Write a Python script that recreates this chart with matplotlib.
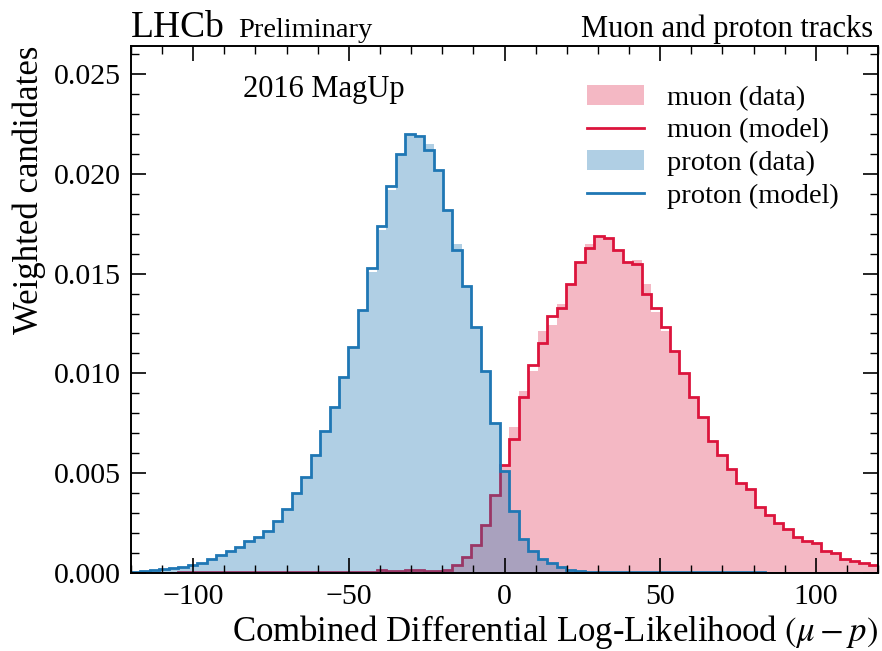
import numpy as np
import matplotlib
matplotlib.use("Agg")
import matplotlib.pyplot as plt
from matplotlib.patches import Patch
from matplotlib.lines import Line2D

# binning: 79 bins between -120 and 120
bin_edges = np.linspace(-120, 120, 80)

# proton sample (normalised, weighted)
proton_model = [
    0.00005, 0.0001, 0.00015, 0.0002, 0.00025, 0.0003, 0.0004, 0.0005, 0.0007, 0.0009,
    0.0011, 0.0013, 0.0016, 0.0018, 0.0021, 0.0026, 0.0032, 0.0040, 0.0048, 0.0059,
    0.0071, 0.0083, 0.0098, 0.0113, 0.0132, 0.0153, 0.0174, 0.0194, 0.0210, 0.0220,
    0.0219, 0.0212, 0.0202, 0.0182, 0.0162, 0.0144, 0.0123, 0.0101, 0.0075, 0.0051,
    0.0031, 0.0017, 0.0011, 0.0007, 0.0005, 0.0003, 0.00015, 0.0001, 0.00005, 0.00005,
    0.00005, 0.00005, 0.00005, 0.00005, 0.00005, 0.00005, 0.00005, 0.00005, 0.00005, 0.00005,
    0.00005, 0.00005, 0.00005, 0.00005, 0.00005, 0.00005, 0.00005, 0.00002, 0.00002, 0.00002,
    0.00002, 0.00002, 0.00002, 0.00002, 0.00002, 0.00002, 0.00002, 0.00002, 0.00002,
]
proton_data = [
    0.00005, 0.0001, 0.00015, 0.0002, 0.00025, 0.0003, 0.0004, 0.0005, 0.0007, 0.0009,
    0.0011, 0.0013, 0.0016, 0.0018, 0.0021, 0.0026, 0.0032, 0.0040, 0.0048, 0.0059,
    0.0071, 0.0083, 0.0098, 0.0113, 0.0132, 0.0151, 0.0172, 0.0192, 0.0210, 0.0220,
    0.0218, 0.0215, 0.0202, 0.0182, 0.0165, 0.0144, 0.0123, 0.0101, 0.0075, 0.0051,
    0.0031, 0.0017, 0.0011, 0.0007, 0.0005, 0.0003, 0.00015, 0.0001, 0.00005, 0.00005,
    0.00005, 0.00005, 0.00005, 0.00005, 0.00005, 0.00005, 0.00005, 0.00005, 0.00005, 0.00005,
    0.00005, 0.00005, 0.00005, 0.00005, 0.00005, 0.00005, 0.00005, 0.00002, 0.00002, 0.00002,
    0.00002, 0.00002, 0.00002, 0.00002, 0.00002, 0.00002, 0.00002, 0.00002, 0.00002,
]

# muon sample
muon_model = [
    0.00002, 0.00002, 0.00002, 0.00002, 0.00002, 0.00005, 0.00005, 0.00005, 0.00005, 0.00005,
    0.00005, 0.00005, 0.00005, 0.00005, 0.00005, 0.00005, 0.00005, 0.00005, 0.00005, 0.00005,
    0.00005, 0.00005, 0.00005, 0.00005, 0.00005, 0.00005, 0.00015, 0.0001, 0.00008, 0.00015,
    0.00015, 0.00012, 0.0001, 0.00015, 0.0004, 0.0008, 0.0014, 0.0024, 0.0039, 0.0054,
    0.0067, 0.0088, 0.0104, 0.0115, 0.0129, 0.0133, 0.0145, 0.0156, 0.0163, 0.0169,
    0.0168, 0.0162, 0.0156, 0.0155, 0.0140, 0.0133, 0.0123, 0.0111, 0.0100, 0.0088,
    0.0078, 0.0066, 0.0059, 0.0052, 0.0045, 0.0042, 0.0033, 0.0029, 0.0025, 0.0022,
    0.0018, 0.0016, 0.0015, 0.0011, 0.0010, 0.0007, 0.0006, 0.0005, 0.0004,
]
muon_data = [
    0.00002, 0.00002, 0.00002, 0.00002, 0.00002, 0.00005, 0.00005, 0.00005, 0.00005, 0.00005,
    0.00005, 0.00005, 0.00005, 0.00005, 0.00005, 0.00005, 0.00005, 0.00005, 0.00005, 0.00005,
    0.00005, 0.00005, 0.00005, 0.00005, 0.00005, 0.00005, 0.00015, 0.0001, 0.00008, 0.00015,
    0.00015, 0.00012, 0.0001, 0.00015, 0.0004, 0.0008, 0.0014, 0.0024, 0.0039, 0.0054,
    0.0073, 0.0091, 0.0101, 0.0121, 0.0124, 0.0135, 0.0145, 0.0156, 0.0165, 0.0169,
    0.0168, 0.0162, 0.0156, 0.0157, 0.0145, 0.0131, 0.0121, 0.0111, 0.0100, 0.0088,
    0.0078, 0.0066, 0.0059, 0.0052, 0.0045, 0.0042, 0.0033, 0.0029, 0.0025, 0.0022,
    0.0018, 0.0016, 0.0015, 0.0011, 0.0010, 0.0007, 0.0006, 0.0005, 0.0004,
]

muon_color = "crimson"
proton_color = "#1f77b4"

plt.rcParams["font.family"] = ["Liberation Serif", "DejaVu Serif"]
plt.rcParams["mathtext.fontset"] = "stix"

fig = plt.figure(figsize=(8.82, 6.51), dpi=100)
ax = fig.add_axes([0.1485, 0.1198, 0.847, 0.8095])

# muon first, proton fill on top so the overlap comes out purple
ax.stairs(muon_data, bin_edges, fill=True, color=muon_color, alpha=0.3, linewidth=0)
ax.stairs(muon_model, bin_edges, color=muon_color, linewidth=2.0)
ax.stairs(proton_data, bin_edges, fill=True, color=proton_color, alpha=0.35, linewidth=0)
ax.stairs(proton_model, bin_edges, color=proton_color, linewidth=2.0)

ax.set_xlim(-120, 120)
ax.set_ylim(0, 0.0264)
ax.set_xticks([-100, -50, 0, 50, 100])
ax.set_xticks(np.arange(-120, 121, 10), minor=True)
ax.set_yticks([0.0, 0.005, 0.010, 0.015, 0.020, 0.025])
ax.set_yticks(np.arange(0, 0.0265, 0.001), minor=True)
ax.yaxis.set_major_formatter(matplotlib.ticker.FormatStrFormatter("%.3f"))
ax.xaxis.set_major_formatter(matplotlib.ticker.FuncFormatter(
    lambda v, p: f"{int(v)}".replace("-", "\u2212")))

ax.tick_params(which="both", direction="in", top=True, right=True, labelsize=21.5)
ax.tick_params(which="major", length=11, width=1.2)
ax.tick_params(which="minor", length=5.5, width=1.0)
ax.tick_params(axis="x", which="major", pad=8)
ax.tick_params(axis="y", which="major", pad=7)
for sp in ax.spines.values():
    sp.set_linewidth(1.4)

ax.set_xlabel(r"Combined Differential Log-Likelihood $(\mu - p)$", fontsize=25,
              loc="right", labelpad=2)
ax.set_ylabel("Weighted candidates", fontsize=25, loc="top", labelpad=6)

fig.text(0.1485, 0.943, "LHCb", fontsize=27, ha="left", va="baseline")
fig.text(0.27, 0.943, "Preliminary", fontsize=20.5, ha="left", va="baseline")
fig.text(0.99, 0.943, "Muon and proton tracks", fontsize=22, ha="right", va="baseline")
ax.text(0.15, 0.945, "2016 MagUp", fontsize=22, transform=ax.transAxes, va="top")

handles = [
    Patch(facecolor=muon_color, alpha=0.3, edgecolor="none"),
    Line2D([], [], color=muon_color, linewidth=2.0),
    Patch(facecolor=proton_color, alpha=0.35, edgecolor="none"),
    Line2D([], [], color=proton_color, linewidth=2.0),
]
labels = ["muon (data)", "muon (model)", "proton (data)", "proton (model)"]
ax.legend(handles, labels, loc="upper right", bbox_to_anchor=(0.982, 0.975),
          frameon=False, fontsize=20.5, handlelength=2.0, labelspacing=0.24,
          handletextpad=0.8)

fig.savefig("out.png", dpi=100)
